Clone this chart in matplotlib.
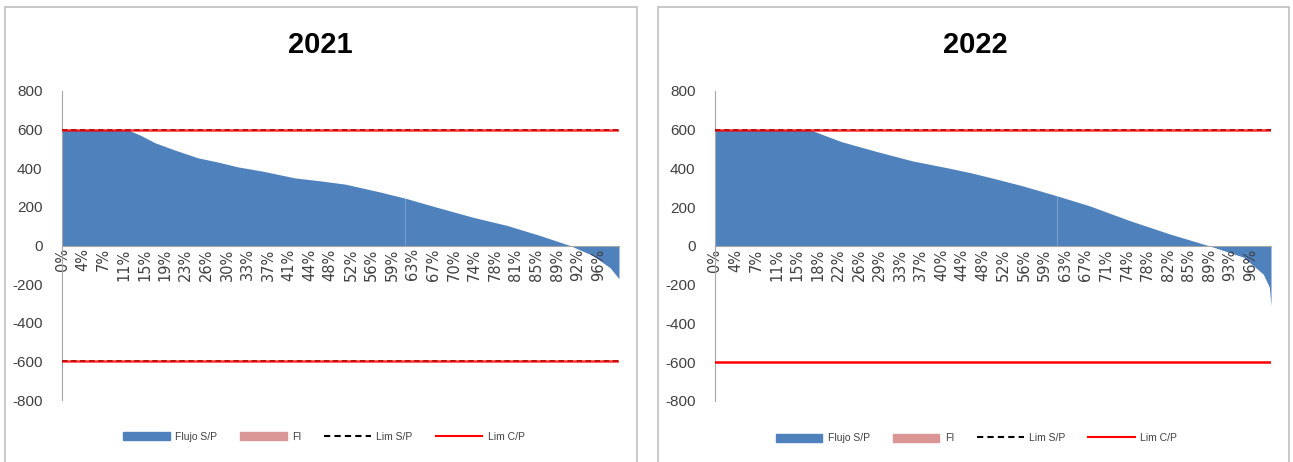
import matplotlib
matplotlib.use("Agg")
import matplotlib.pyplot as plt
from matplotlib.patches import Patch, Rectangle
from matplotlib.lines import Line2D

plt.rcParams["axes.unicode_minus"] = False

# Duration curves (x = fraction of the category axis, y = flow in MW)
x_2021 = [0.0, 0.117, 0.14, 0.167, 0.20, 0.244, 0.28, 0.316, 0.36, 0.418, 0.46, 0.508,
          0.571, 0.616, 0.673, 0.738, 0.799, 0.858, 0.912, 0.953, 0.984, 1.0]
y_2021 = [600, 600, 572, 532, 497, 454, 432, 407, 385, 350, 336, 318,
          277, 245, 198, 146, 104, 52, 0, -52, -115, -172]

x_2022 = [0.0, 0.171, 0.20, 0.228, 0.293, 0.354, 0.419, 0.46, 0.504, 0.554, 0.615, 0.674,
          0.746, 0.818, 0.890, 0.950, 0.986, 0.997, 1.0]
y_2022 = [600, 600, 568, 538, 486, 440, 403, 378, 347, 310, 259, 207,
          131, 62, 0, -57, -145, -212, -310]

seam = {"2021": 0.616, "2022": 0.615}

labels_2021 = ["0%", "4%", "7%", "11%", "15%", "19%", "23%", "26%", "30%", "33%", "37%", "41%",
               "44%", "48%", "52%", "56%", "59%", "63%", "67%", "70%", "74%", "78%", "81%",
               "85%", "89%", "92%", "96%"]
labels_2022 = ["0%", "4%", "7%", "11%", "15%", "18%", "22%", "26%", "29%", "33%", "37%", "40%",
               "44%", "48%", "52%", "56%", "59%", "63%", "67%", "71%", "74%", "78%", "82%",
               "85%", "89%", "93%", "96%"]

lim_cp = [600, -600]            # Lim C/P (red)
lim_sp_2021 = [600, -600]       # Lim S/P (black dashed)
lim_sp_2022 = [600]

BLUE = "#4F81BD"
PINK = "#D99694"
GRAY = "#A6A6A6"
NARROW = ["Liberation Sans Narrow", "Liberation Sans"]

fig = plt.figure(figsize=(12.93, 4.62), dpi=100)

# panel frames
fig.patches.append(Rectangle((5 / 1293, -0.01), 632 / 1293, 1 - 7 / 462 + 0.01,
                             transform=fig.transFigure, fill=False, ec="#BFBFBF", lw=1.2))
fig.patches.append(Rectangle((658 / 1293, -0.01), 631 / 1293, 1 - 7 / 462 + 0.01,
                             transform=fig.transFigure, fill=False, ec="#BFBFBF", lw=1.2))


def panel(rect, title, xs, ys, labels, sp, split, title_x):
    ax = fig.add_axes(rect)
    # spine position first, it resets the axis ticks
    ax.spines["top"].set_visible(False)
    ax.spines["right"].set_visible(False)
    ax.spines["left"].set_color(GRAY)
    ax.spines["bottom"].set_color(GRAY)
    ax.spines["bottom"].set_position(("data", 0))
    ax.spines["bottom"].set_zorder(5)

    # area split in two pieces (like the original two series joint)
    xa = [v for v in xs if v <= split]
    ya = ys[:len(xa)]
    k = len(xa)
    ax.fill_between(xa, ya, 0, color=BLUE, lw=0)
    ax.fill_between([xa[-1]] + xs[k:], [ya[-1]] + ys[k:], 0, color=BLUE, lw=0)

    for v in sp:
        ax.axhline(v, color="#202020", lw=1.3, ls=(0, (3, 2)), zorder=3)
    for v in lim_cp:
        ax.axhline(v, color="#FF0000", lw=1.8, zorder=4, alpha=0.8 if v in sp else 1)

    ax.set_xlim(0, 1)
    ax.set_ylim(-800, 800)
    ax.set_yticks(range(-800, 801, 200))
    n = len(labels)
    step = 1 / 27.0
    ax.set_xticks([i * step for i in range(n)])
    ax.set_xticklabels(labels, rotation=90, family="DejaVu Sans", fontsize=10.5,
                       color="#404040")
    ax.tick_params(axis="x", length=0, pad=2)
    ax.tick_params(axis="y", length=0, pad=14, labelsize=11, labelcolor="#404040")
    for lab in ax.get_yticklabels():
        lab.set_family(NARROW)

    fig.text(title_x, 1 - 45 / 462, title, ha="center", va="center", fontsize=21,
             fontweight="bold", family=NARROW)

    handles = [Patch(color=BLUE, label="Flujo S/P"),
               Patch(color=PINK, label="FI"),
               Line2D([], [], color="black", ls=(0, (3, 2)), lw=1.5, label="Lim S/P"),
               Line2D([], [], color="#FF0000", lw=1.5, label="Lim C/P")]
    leg = ax.legend(handles=handles, loc="center", bbox_to_anchor=(0.47, -0.12), ncol=4,
                    frameon=False, fontsize=7.5, handlelength=4.5, handleheight=0.8,
                    columnspacing=2.2, handletextpad=0.5)
    for t in leg.get_texts():
        t.set_color("#404040")
        t.set_family(NARROW)
    return ax


panel([62 / 1293, 1 - 400 / 462, 557 / 1293, 309 / 462], "2021", x_2021, y_2021,
      labels_2021, lim_sp_2021, seam["2021"], 320 / 1293)
panel([715 / 1293, 1 - 401 / 462, 556 / 1293, 310 / 462], "2022", x_2022, y_2022,
      labels_2022, lim_sp_2022, seam["2022"], 975 / 1293)

fig.savefig("out.png", dpi=100)
